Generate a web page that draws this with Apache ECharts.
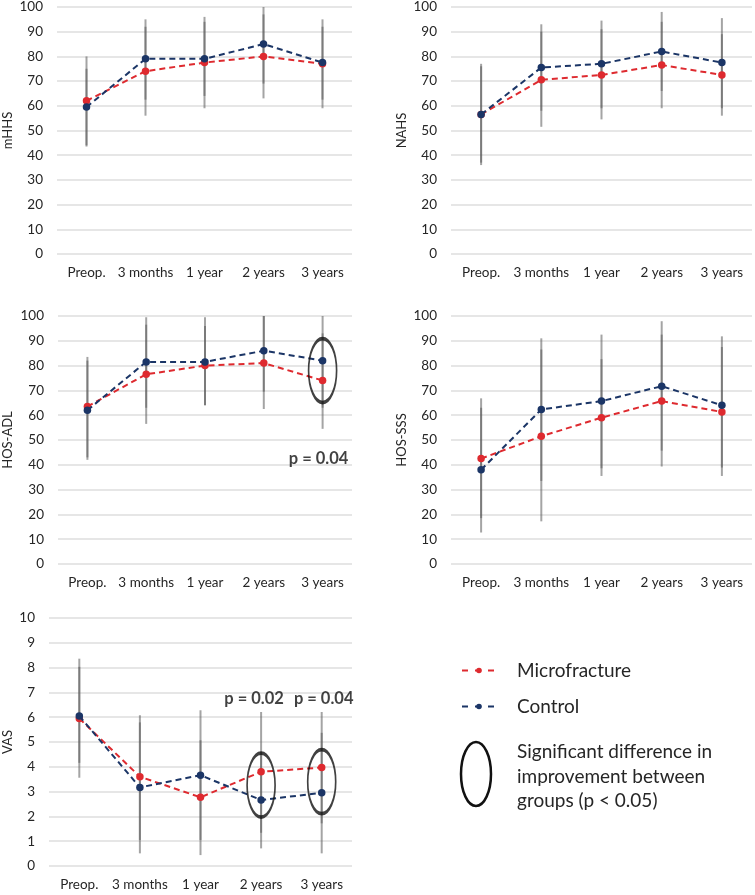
<!DOCTYPE html>
<html><head><meta charset="utf-8">
<script src="https://cdn.jsdelivr.net/npm/echarts@6/dist/echarts.min.js"></script>
<style>html,body{margin:0;padding:0;background:#fff}#c{width:755px;height:895px}</style>
</head><body><div id="c"></div>
<script>
var categories = ['Preop.', '3 months', '1 year', '2 years', '3 years'];

var mhhsMicro = [62, 74, 77.5, 80, 77];
var mhhsControl = [59.5, 79, 79, 85, 77.5];
var mhhsMicroErr = [[44, 80], [56, 92], [59, 96], [63, 97], [59, 95]];
var mhhsControlErr = [[43.5, 75], [62.5, 95], [64, 94], [69, 100], [62.5, 92]];

var nahsMicro = [56.5, 70.5, 72.5, 76.5, 72.5];
var nahsControl = [56.5, 75.5, 77, 82, 77.5];
var nahsMicroErr = [[36, 77], [51.5, 90], [54.5, 91], [59, 94], [56, 89]];
var nahsControlErr = [[37, 76], [58, 93], [59, 94.5], [66, 98], [59, 95.5]];

var adlMicro = [63.5, 76.5, 80, 81, 74];
var adlControl = [62, 81.5, 81.5, 86, 82];
var adlMicroErr = [[42, 83.5], [56.5, 96.5], [64, 96], [62.5, 100], [54.5, 93]];
var adlControlErr = [[43, 82], [63, 99.5], [64, 99.5], [69.5, 100], [63, 100]];

var sssMicro = [42.5, 51.5, 59, 65.7, 61.3];
var sssControl = [38, 62.3, 65.7, 71.7, 64];
var sssMicroErr = [[18.5, 66.8], [17.2, 86.5], [35.5, 82.6], [39.3, 92.5], [35.5, 87.5]];
var sssControlErr = [[12.7, 63], [33.5, 91], [38.6, 92.5], [45.7, 97.9], [38.9, 91.8]];

var vasMicro = [5.95, 3.6, 2.77, 3.8, 3.97];
var vasControl = [6.05, 3.17, 3.66, 2.66, 2.95];
var vasMicroErr = [[3.56, 8.36], [1.05, 6.08], [0.44, 5.07], [1.34, 6.21], [1.72, 6.21]];
var vasControlErr = [[4.16, 8.03], [0.51, 5.79], [1.05, 6.28], [0.71, 4.6], [0.51, 5.37]];

var adlSig = [[4, 78]];
var vasSig = [[3, 3.26], [4, 3.4]];
var adlPText = [[4, 42.5, 'p = 0.04']];
var vasPText = [[3, 6.75, 'p = 0.02'], [4, 6.75, 'p = 0.04']];

var panels = [
  {name: 'mHHS', micro: mhhsMicro, control: mhhsControl, mErr: mhhsMicroErr, cErr: mhhsControlErr, max: 100, interval: 10, grid: {left: 52, top: 5, width: 300, height: 249}, gap: 43},
  {name: 'NAHS', micro: nahsMicro, control: nahsControl, mErr: nahsMicroErr, cErr: nahsControlErr, max: 100, interval: 10, grid: {left: 451, top: 5, width: 301, height: 249}, gap: 43},
  {name: 'HOS-ADL', micro: adlMicro, control: adlControl, mErr: adlMicroErr, cErr: adlControlErr, max: 100, interval: 10, grid: {left: 52, top: 316, width: 300, height: 248}, gap: 44, sig: adlSig, ptext: adlPText, poff: [[-4, 0]]},
  {name: 'HOS-SSS', micro: sssMicro, control: sssControl, mErr: sssMicroErr, cErr: sssControlErr, max: 100, interval: 10, grid: {left: 451, top: 316, width: 301, height: 248}, gap: 43},
  {name: 'VAS', micro: vasMicro, control: vasControl, mErr: vasMicroErr, cErr: vasControlErr, max: 10, interval: 1, grid: {left: 43, top: 618, width: 309, height: 248}, gap: 35, sig: vasSig, ptext: vasPText, poff: [[-7, 0], [2, 0]]}
];

var RED = '#de2a2f', BLUE = '#1b3566', FONT = 'Lato', TXT = '#262626';
var grids = [], xAxes = [], yAxes = [], series = [];

function errData(arr) {
  return arr.map(function (d, i) { return [i, d[0], d[1]]; });
}
function renderErr(params, api) {
  var lo = api.coord([api.value(0), api.value(1)]);
  var hi = api.coord([api.value(0), api.value(2)]);
  return {type: 'line', shape: {x1: lo[0], y1: lo[1], x2: hi[0], y2: hi[1]},
    style: {stroke: 'rgba(90,90,90,0.55)', lineWidth: 2}};
}

panels.forEach(function (p, i) {
  grids.push(p.grid);
  xAxes.push({type: 'category', gridIndex: i, data: categories, boundaryGap: true,
    axisLine: {show: false}, axisTick: {show: false},
    axisLabel: {fontFamily: FONT, fontSize: 13.5, color: TXT, margin: 12, interval: 0}});
  yAxes.push({type: 'value', gridIndex: i, min: 0, max: p.max, interval: p.interval,
    name: p.name, nameLocation: 'middle', nameGap: p.gap, nameRotate: 90,
    nameTextStyle: {fontFamily: FONT, fontSize: 13, color: TXT},
    axisLine: {show: false}, axisTick: {show: false},
    axisLabel: {fontFamily: FONT, fontSize: 13.5, color: TXT, margin: 14},
    splitLine: {lineStyle: {color: '#dedede', width: 1.5}}});
  [p.mErr, p.cErr].forEach(function (e) {
    series.push({type: 'custom', xAxisIndex: i, yAxisIndex: i, data: errData(e),
      renderItem: renderErr, z: 1, silent: true, encode: {x: 0, y: [1, 2]}});
  });
  series.push({type: 'line', name: 'Microfracture', xAxisIndex: i, yAxisIndex: i, data: p.micro,
    symbol: 'circle', symbolSize: 7.5, z: 3,
    lineStyle: {type: [6, 4], width: 2, color: RED}, itemStyle: {color: RED}});
  series.push({type: 'line', name: 'Control', xAxisIndex: i, yAxisIndex: i, data: p.control,
    symbol: 'circle', symbolSize: 7.5, z: 4,
    lineStyle: {type: [6, 4], width: 2, color: BLUE}, itemStyle: {color: BLUE}});
  if (p.sig) {
    series.push({type: 'scatter', xAxisIndex: i, yAxisIndex: i, data: p.sig, z: 5, silent: true,
      symbol: 'circle', symbolSize: [28, 64],
      itemStyle: {color: 'rgba(0,0,0,0)', borderColor: '#111', borderWidth: 2.5}});
  }
  if (p.ptext) {
    series.push({type: 'scatter', xAxisIndex: i, yAxisIndex: i, z: 6, silent: true,
      data: p.ptext.map(function (d, k) {
        return {value: [d[0], d[1]], label: {formatter: d[2], offset: p.poff[k]}};
      }),
      symbolSize: 0,
      label: {show: true, position: 'inside', fontFamily: FONT, fontSize: 16.5, fontWeight: 'bold', color: '#111'}});
  }
});

var option = {
  backgroundColor: '#fff',
  animation: false,
  grid: grids, xAxis: xAxes, yAxis: yAxes, series: series,
  legend: {data: ['Microfracture', 'Control'], orient: 'vertical', left: 456, top: 656,
    itemWidth: 34, itemHeight: 7, itemGap: 17,
    lineStyle: {type: [6, 7], width: 2},
    textStyle: {fontFamily: FONT, fontSize: 19, color: TXT, padding: [0, 0, 0, 16]}},
  graphic: [
    {type: 'ellipse', shape: {cx: 476, cy: 774, rx: 15, ry: 32},
      style: {fill: 'none', stroke: '#111', lineWidth: 2.5}},
    {type: 'text', left: 517, top: 740,
      style: {text: 'Significant difference in\nimprovement between\ngroups (p < 0.05)',
        font: '19px Lato', fill: TXT, lineHeight: 24.5}}
  ]
};
var chart = echarts.init(document.getElementById('c'), null, {renderer: 'canvas'});
chart.setOption(option);
</script></body></html>
